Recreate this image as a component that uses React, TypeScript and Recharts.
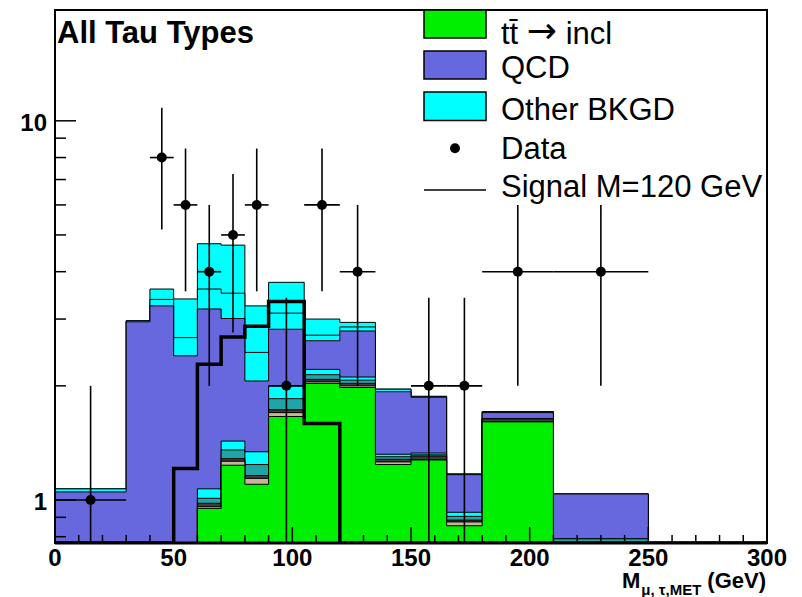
import React from "react";
import { ComposedChart, Area, Line, Scatter, ErrorBar, XAxis, YAxis, ReferenceArea, Legend } from "recharts";

// bin edges in GeV (the last bin 250-300 is empty)
const binEdges = [0, 30, 40, 50, 60, 70, 80, 90, 105, 120, 135, 150, 165, 180, 210, 250, 300];

// stack contents per bin, bottom to top
const ttbar = [0, 0, 0, 0, 0.95, 1.235, 1.1, 1.66, 2.03, 1.98, 1.24, 1.275, 0.855, 1.607, 0, 0];
const otherTan = [0, 0, 0, 0, 0.01, 0.03, 0.04, 0.04, 0.02, 0.02, 0.02, 0, 0.02, 0, 0, 0];
const otherDark = [0, 0, 0, 0, 0.02, 0.02, 0.02, 0.03, 0.03, 0.03, 0.02, 0.03, 0.01, 0.03, 0, 0];
const otherTeal = [0, 0, 0, 0, 0.03, 0.07, 0.08, 0.12, 0.06, 0.04, 0.02, 0.01, 0.02, 0, 0.79, 0];
const otherCyanLow = [0, 0, 0, 0, 0.06, 0.075, 0.1, 0.15, 0.07, 0.04, 0.02, 0.015, 0.023, 0.003, 0, 0];
const qcd = [1.05, 2.95, 3.25, 2.4, 2.12, 1.58, 0.72, 0.82, 0.42, 0.68, 0.61, 0.536, 0.238, 0.06, 0.247, 0];
const otherMid = [0.02, 0.02, 0.13, 0.28, 0.41, 0.5, 0.39, 0.29, 0.09, 0.07, 0.03, 0.01, 0.005, 0.01, 0, 0];
const otherTop = [0, 0, 0.22, 0.71, 1.14, 1.19, 0.8, 0.64, 0.28, 0.08, 0, 0, 0, 0, 0, 0];

// signal M=120 GeV
const signal = [0, 0, 0, 1.21, 2.28, 2.69, 2.87, 3.34, 1.59, 0, 0, 0, 0, 0, 0, 0];

// data points
const dataX = [15, 45, 55, 65, 75, 85, 97.5, 112.5, 127.5, 157.5, 172.5, 195, 230];
const dataY = [1, 8, 6, 4, 5, 6, 2, 6, 4, 2, 2, 4, 4];
const dataHalfWidth = [15, 5, 5, 5, 5, 5, 7.5, 7.5, 7.5, 7.5, 7.5, 15, 20];

const xTicks = [0, 10, 20, 30, 40, 50, 60, 70, 80, 90, 100, 110, 120, 130, 140, 150, 160, 170, 180, 190, 200, 210, 220, 230, 240, 250, 260, 270, 280, 290, 300];
const yTicks = [0.8, 0.9, 1, 2, 3, 4, 5, 6, 7, 8, 9, 10];

const legendLabels = ["QCD", "Other BKGD", "Data", "Signal M=120 GeV"];

const Y_MIN = 0.77;
const Y_MAX = 19.6;
const FLOOR = 0.3; // empty bins go below the frame and get clipped

const GREEN = "#00ee00";
const PURPLE = "#6868de";
const CYAN = "#00ffff";
const FONT = "'Liberation Sans', Arial, Helvetica, sans-serif";

const layers = [
  { values: ttbar, fill: GREEN },
  { values: otherTan, fill: "#c8b496" },
  { values: otherDark, fill: "#3c3c3c" },
  { values: otherTeal, fill: "#1fa5a5" },
  { values: otherCyanLow, fill: CYAN },
  { values: qcd, fill: PURPLE },
  { values: otherMid, fill: CYAN },
  { values: otherTop, fill: CYAN },
];

const nBins = binEdges.length - 1;
const rows = binEdges.map((edge, i) => {
  const b = Math.min(i, nBins - 1);
  const row: any = { x: edge };
  let sum = 0;
  layers.forEach((l, k) => {
    sum += l.values[b];
    row["c" + k] = sum > 0 ? sum : FLOOR;
  });
  row.signal = signal[b] > 0 ? signal[b] : Y_MIN;
  return row;
});

const points = dataX.map((x, i) => {
  const y = dataY[i];
  const e = Math.sqrt(y);
  return { x, y, ex: dataHalfWidth[i], ey: [y - Math.max(y - e, Y_MIN), e] };
});

function XTick({ x, y, payload }: any) {
  const v = payload.value;
  const major = v % 50 === 0;
  return (
    <g>
      <line x1={x} x2={x} y1={y} y2={y - (major ? 16 : 8)} stroke="#000" strokeWidth={1.5} />
      {major && (
        <text x={x} y={y + 23} textAnchor="middle" fontFamily={FONT} fontWeight="bold" fontSize={24} fill="#000">
          {v}
        </text>
      )}
    </g>
  );
}

function YTick({ x, y, payload }: any) {
  const v = payload.value;
  const major = v === 1 || v === 10;
  return (
    <g>
      <line x1={x} x2={x + (major ? 21 : 11)} y1={y} y2={y} stroke="#000" strokeWidth={1.5} />
      {major && (
        <text x={x - 8} y={y + 10} textAnchor="end" fontFamily={FONT} fontWeight="bold" fontSize={24} fill="#000">
          {v}
        </text>
      )}
    </g>
  );
}

function HistLegend() {
  const L = 415;
  const bx = 424 - L;
  const tx = 501 - L;
  const t = { fontFamily: FONT, fontSize: 31, fill: "#000" };
  return (
    <svg width={387} height={210} style={{ display: "block", overflow: "visible" }}>
      <rect x={bx} y={10} width={62} height={28} fill={GREEN} stroke="#000" strokeWidth={1.5} />
      <text x={tx} y={44} {...t}>
        {"tt\u0304 "}
        <tspan fontFamily="'DejaVu Sans', sans-serif" fontSize={36} dy={-1}>{"\u2192"}</tspan>
        <tspan dy={1}>{" incl"}</tspan>
      </text>
      <rect x={bx} y={51} width={62} height={28} fill={PURPLE} stroke="#000" strokeWidth={1.5} />
      <text x={tx} y={77.5} {...t}>{legendLabels[0]}</text>
      <rect x={bx} y={92} width={62} height={28.5} fill={CYAN} stroke="#000" strokeWidth={1.5} />
      <text x={tx} y={120} {...t}>{legendLabels[1]}</text>
      <circle cx={455 - L} cy={148.3} r={5} fill="#000" />
      <text x={tx} y={159} {...t}>{legendLabels[2]}</text>
      <line x1={bx} x2={bx + 62} y1={190} y2={190} stroke="#000" strokeWidth={1.5} />
      <text x={tx} y={196.5} {...t}>{legendLabels[3]}</text>
    </svg>
  );
}

export default function App() {
  return (
    <div style={{ position: "absolute", left: 0, top: 0, width: 802, height: 597, background: "#fff" }}>
      <ComposedChart width={802} height={597} data={rows} margin={{ top: 10, right: 35, bottom: 0, left: 0 }}>
        {layers
          .map((l, k) => (
            <Area
              key={k}
              dataKey={"c" + k}
              type="stepAfter"
              fill={l.fill}
              fillOpacity={1}
              stroke="#000"
              strokeWidth={1}
              baseValue={Y_MIN}
              dot={false}
              activeDot={false}
              isAnimationActive={false}
            />
          ))
          .reverse()}
        <Line dataKey="signal" type="stepAfter" stroke="#000" strokeWidth={3.5} dot={false} activeDot={false} isAnimationActive={false} />
        <Scatter
          data={points}
          dataKey="y"
          fill="#000"
          isAnimationActive={false}
          shape={(p: any) => <circle cx={p.cx} cy={p.cy} r={5} fill="#000" />}
        >
          <ErrorBar dataKey="ex" direction="x" width={0} stroke="#000" strokeWidth={1.6} isAnimationActive={false} />
          <ErrorBar dataKey="ey" direction="y" width={0} stroke="#000" strokeWidth={1.6} isAnimationActive={false} />
        </Scatter>
        <ReferenceArea x1={0} x2={300} y1={Y_MIN} y2={Y_MAX} fill="none" stroke="#000" strokeWidth={2} ifOverflow="visible" />
        <XAxis
          dataKey="x"
          type="number"
          domain={[0, 300]}
          ticks={xTicks}
          interval={0}
          height={54}
          tickSize={0}
          tickMargin={0}
          tick={<XTick />}
          axisLine={{ stroke: "#000", strokeWidth: 3 }}
          tickLine={false}
          label={{
            content: () => (
              <text x={766} y={588} textAnchor="end" fontFamily={FONT} fontWeight="bold" fontSize={22} fill="#000">
                M
                <tspan fontSize={15} dy={7} dx={1}>{"\u03bc, \u03c4,MET"}</tspan>
                <tspan dy={-7} dx={6}>(GeV)</tspan>
              </text>
            ),
          }}
        />
        <YAxis
          type="number"
          scale="log"
          domain={[Y_MIN, Y_MAX]}
          allowDataOverflow
          ticks={yTicks}
          interval={0}
          width={55}
          tickSize={0}
          tickMargin={0}
          tick={<YTick />}
          axisLine={{ stroke: "#000", strokeWidth: 2 }}
          tickLine={false}
          label={{
            content: () => (
              <text x={57} y={43} fontFamily={FONT} fontWeight="bold" fontSize={31} fill="#000">
                All Tau Types
              </text>
            ),
          }}
        />
        <Legend
          layout="vertical"
          align="center"
          verticalAlign="middle"
          content={() => <HistLegend />}
          wrapperStyle={{ position: "absolute", left: 415, top: 0, width: 387, height: 210 }}
        />
      </ComposedChart>
    </div>
  );
}
